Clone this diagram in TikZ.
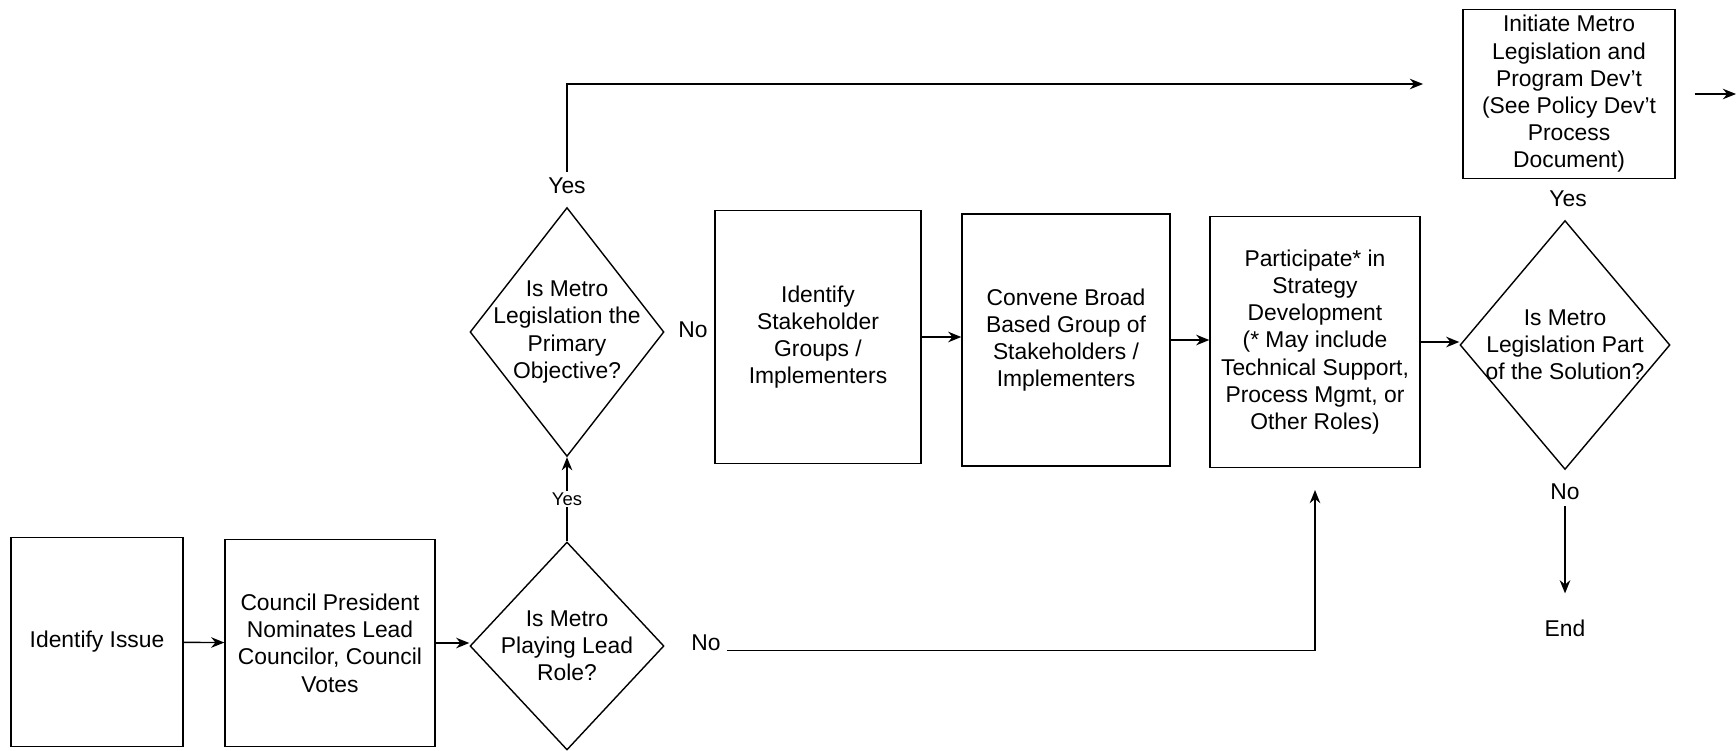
\documentclass[tikz,border=0pt]{standalone}
\usepackage{fontspec}
\setmainfont{Liberation Sans}
\usetikzlibrary{shapes.geometric, arrows.meta, positioning}
\tikzset{
    % Box styles with sharp corners
    process/.style={
        rectangle,
        draw=black,
        fill=white,
        thick,
        align=center
    },
    decision/.style={
        diamond,
        draw=black,
        thick,
        inner sep=0pt
    },
    decision text/.style={
        align=center,
        inner sep=0pt
    },
    small label/.style={
        font=\fontsize{10.5}{12}\selectfont,
        fill=white,
        inner sep=1pt
    },
    arrow style/.style={
        ->,
        >={Stealth[length=7.5pt, width=6pt]},
        thick,
        black
    }
}

\begin{document}
\begin{tikzpicture}[x=0.02cm, y=-0.02cm, font=\fontsize{13}{15.5}\selectfont]
        \useasboundingbox (0,0) rectangle (1736,750);

        % Lower row
        \node[process, minimum width=3.44cm, minimum height=4.18cm] (issue) at (97,642) {Identify Issue};

        \node[process, minimum width=4.2cm, minimum height=4.14cm] (council) at (330,643) {
            Council President\\
            Nominates Lead\\
            Councilor, Council\\
            Votes
        };

        \node[decision, minimum width=3.88cm, minimum height=4.16cm] (lead) at (567,646) {};
        \node[decision text] (leadtext) at (lead) {Is Metro\\Playing Lead\\Role?};

        % Upper row
        \node[decision, minimum width=3.88cm, minimum height=4.98cm] (primary) at (567,332) {};
        \node[decision text] (primarytext) at (primary) {Is Metro\\Legislation the\\Primary\\Objective?};

        \node[process, minimum width=4.12cm, minimum height=5.06cm] (stake) at (818,337) {
            Identify\\
            Stakeholder\\
            Groups /\\
            Implementers
        };

        \node[process, minimum width=4.16cm, minimum height=5.04cm] (convene) at (1066,340) {
            Convene Broad\\
            Based Group of\\
            Stakeholders /\\
            Implementers
        };

        \node[process, minimum width=4.2cm, minimum height=5.02cm] (part) at (1315,342) {
            Participate* in\\
            Strategy\\
            Development\\
            (* May include\\
            Technical Support,\\
            Process Mgmt, or\\
            Other Roles)
        };

        \node[decision, minimum width=4.2cm, minimum height=4.98cm] (solution) at (1565,345) {};
        \node[decision text] (solutiontext) at (solution) {Is Metro\\Legislation Part\\of the Solution?};

        \node[process, minimum width=4.24cm, minimum height=3.34cm] (init) at (1569,94) {
            Initiate Metro\\
            Legislation and\\
            Program Dev’t\\
            (See Policy Dev’t\\
            Process\\
            Document)
        };

        % Labels
        \node (yesup) at (567,186) {Yes};
        \node (noprimary) at (693,330) {No};
        \node (nolead) at (706,643) {No};
        \node (yessol) at (1568,199) {Yes};
        \node (nosol) at (1565,492) {No};
        \node (endtext) at (1565,628) {End};

        \coordinate (initin) at (1423,84);
        \coordinate (partin) at (1315,490);
        \coordinate (exit) at (1736,95);

        % Arrows
        \draw[arrow style] (issue) -- (council);
        \draw[arrow style] (council.east) -- (council.east -| lead.west);
        \draw[arrow style] (lead.north) -- node[small label] (yeslow) {Yes} (primary.south);
        \draw[arrow style] (yesup.north) |- (initin);
        \draw[arrow style] (stake.east) -- (stake.east -| convene.west);
        \draw[arrow style] (convene.east) -- (convene.east -| part.west);
        \draw[arrow style] (part.east) -- (part.east -| solution.west);
        \draw[arrow style] (nolead.base east) -| (partin);
        \draw[arrow style, shorten >=0.4cm] (nosol.south) -- (endtext.north);
        \draw[arrow style, shorten <=0.38cm] (init.east) -- (init.east -| exit);
    \end{tikzpicture}
\end{document}
